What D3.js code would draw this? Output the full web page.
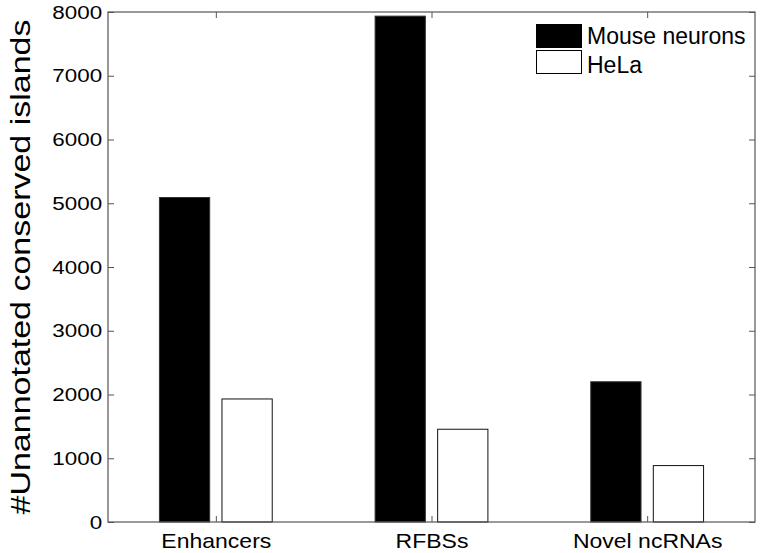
<!DOCTYPE html>
<html>
<head>
<meta charset="utf-8">
<script src="https://cdn.jsdelivr.net/npm/d3@7"></script>
<style>
  body { margin: 0; background: #fff; }
  text { font-family: "Liberation Sans", Arial, sans-serif; fill: #000; }
</style>
</head>
<body>
<div id="svgcontainer"></div>
<script>
var categories = ["Enhancers", "RFBSs", "Novel ncRNAs"];
var seriesNames = ["Mouse neurons", "HeLa"];
var mouseValues = [5090, 7935, 2200];
var helaValues = [1930, 1455, 885];
var yTicks = [0, 1000, 2000, 3000, 4000, 5000, 6000, 7000, 8000];

var width = 760, height = 553;
var plotLeft = 108, plotRight = 755, plotTop = 12, plotBottom = 522;

var svg = d3.select("#svgcontainer")
  .append("svg")
  .attr("width", width)
  .attr("height", height);

var x = d3.scaleLinear().domain([0.5, 3.5]).range([plotLeft, plotRight]);
var y = d3.scaleLinear().domain([0, 8000]).range([plotBottom, plotTop]);

var seriesData = [mouseValues, helaValues];
var fills = ["#000", "#fff"];
var offsets = [-0.145, 0.145];
var barW = 0.233;

// bars
seriesData.forEach(function(vals, s) {
  svg.append("g")
    .selectAll("rect")
    .data(vals)
    .enter()
    .append("rect")
    .attr("x", function(d, i) { return x(i + 1 + offsets[s] - barW / 2); })
    .attr("width", function() { return x(0.5 + barW) - x(0.5); })
    .attr("y", function(d) { return y(d); })
    .attr("height", function(d) { return y(0) - y(d); })
    .attr("fill", fills[s])
    .attr("stroke", s == 0 ? "#333" : "#111")
    .attr("stroke-width", 1);
});

// axes
var yAxis = d3.axisLeft(y).tickValues(yTicks).tickSize(-6).tickPadding(5)
  .tickFormat(d3.format("d"));
var yAxisR = d3.axisRight(y).tickValues(yTicks).tickSize(-6).tickFormat("");
var xAxis = d3.axisBottom(x).tickValues([1, 2, 3]).tickSize(-6).tickPadding(12)
  .tickFormat(function(d) { return categories[d - 1]; });
var xAxisT = d3.axisTop(x).tickValues([1, 2, 3]).tickSize(-6).tickFormat("");

function style(g, size, stretch) {
  g.select(".domain").remove();
  g.selectAll("line").attr("stroke", "#555");
  g.selectAll("text")
    .style("font-size", size + "px")
    .attr("transform", "scale(" + stretch + ",1)");
}

svg.append("g").attr("transform", "translate(" + plotLeft + ",0)").call(yAxis).call(style, 19, 1.18);
svg.append("g").attr("transform", "translate(" + plotRight + ",0)").call(yAxisR).call(style, 19, 1);
svg.append("g").attr("transform", "translate(0," + plotBottom + ")").call(xAxis).call(style, 20, 1.15);
svg.append("g").attr("transform", "translate(0," + plotTop + ")").call(xAxisT).call(style, 19, 1);

svg.append("rect")
  .attr("x", plotLeft)
  .attr("y", plotTop)
  .attr("width", plotRight - plotLeft)
  .attr("height", plotBottom - plotTop)
  .attr("fill", "none")
  .attr("stroke", "#555")
  .attr("stroke-width", 1.2);

// y label
svg.append("text")
  .attr("transform", "translate(30," + 267 + ") rotate(-90)")
  .attr("text-anchor", "middle")
  .attr("textLength", 495)
  .attr("lengthAdjust", "spacingAndGlyphs")
  .style("font-size", "27px")
  .text("#Unannotated conserved islands");

// legend
var legend = svg.append("g").attr("transform", "translate(536,24)");
seriesNames.forEach(function(name, i) {
  legend.append("rect")
    .attr("x", 0.5)
    .attr("y", i * 26 + 0.5)
    .attr("width", 45)
    .attr("height", 23)
    .attr("fill", fills[i])
    .attr("stroke", "#000");
  legend.append("text")
    .attr("x", 51)
    .attr("y", i * 28.5 + 20)
    .style("font-size", "23px")
    .text(name);
});
</script>
</body>
</html>
